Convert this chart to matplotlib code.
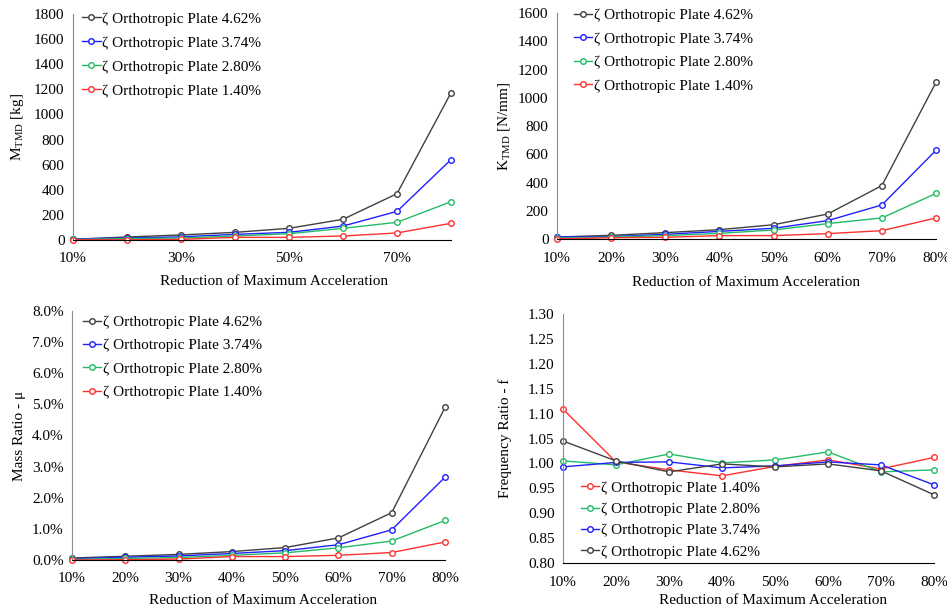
import matplotlib
matplotlib.use("Agg")
import matplotlib.pyplot as plt
from matplotlib.ticker import FuncFormatter

plt.rcParams['font.family'] = ['Liberation Serif', 'DejaVu Serif']
plt.rcParams['mathtext.fontset'] = 'custom'
plt.rcParams['mathtext.rm'] = 'Liberation Serif'
plt.rcParams['font.size'] = 11

W, H = 947, 611

categories = ["10%", "20%", "30%", "40%", "50%", "60%", "70%", "80%"]
series_names = ["ζ Orthotropic Plate 4.62%", "ζ Orthotropic Plate 3.74%",
                "ζ Orthotropic Plate 2.80%", "ζ Orthotropic Plate 1.40%"]
series_colors = ["#404040", "#2020ff", "#22bb66", "#ff3030"]

# M_TMD [kg]
mass_462 = [5, 24, 40, 61, 93, 165, 369, 1173]
mass_374 = [8, 16, 25, 45, 61, 111, 228, 640]
mass_280 = [4, 11, 16, 32, 50, 93, 141, 305]
mass_140 = [2, 2, 5, 21, 21, 32, 56, 133]

# K_TMD [N/mm]
stiff_462 = [14, 26, 45, 66, 101, 177, 378, 1109]
stiff_374 = [14, 17, 33, 54, 76, 130, 241, 628]
stiff_280 = [5, 14, 24, 40, 64, 109, 149, 323]
stiff_140 = [0, 9, 12, 24, 24, 38, 59, 149]

# mass ratio [%]
mu_462 = [0.064, 0.12, 0.18, 0.27, 0.40, 0.71, 1.52, 4.90]
mu_374 = [0.04, 0.09, 0.13, 0.21, 0.30, 0.49, 0.97, 2.66]
mu_280 = [0.02, 0.05, 0.08, 0.15, 0.23, 0.39, 0.61, 1.27]
mu_140 = [0.00, 0.01, 0.03, 0.11, 0.11, 0.15, 0.24, 0.58]

# frequency ratio
f_140 = [1.109, 1.003, 0.987, 0.975, 0.994, 1.007, 0.989, 1.012]
f_280 = [1.005, 0.997, 1.019, 1.001, 1.007, 1.023, 0.983, 0.987]
f_374 = [0.993, 1.002, 1.003, 0.991, 0.995, 1.003, 0.997, 0.957]
f_462 = [1.045, 1.005, 0.983, 0.999, 0.993, 0.999, 0.985, 0.937]

fig = plt.figure(figsize=(W / 100, H / 100), dpi=100)


def make_ax(left, top, right, bottom):
    return fig.add_axes([left / W, 1 - bottom / H, (right - left) / W, (bottom - top) / H])


def style(ax, ylim, yticks, ylabel, xtick_idx, fmt=None):
    x = list(range(len(categories)))
    ax.set_xlim(0, len(categories) - 1)
    ax.set_ylim(*ylim)
    ax.set_yticks(yticks)
    if fmt:
        ax.yaxis.set_major_formatter(FuncFormatter(fmt))
    ax.set_xticks([x[i] for i in xtick_idx])
    ax.set_xticklabels([categories[i] for i in xtick_idx])
    for s in ("top", "right"):
        ax.spines[s].set_visible(False)
    ax.spines["left"].set_color("#8c8c8c")
    ax.spines["bottom"].set_color("black")
    ax.tick_params(length=0, pad=6, labelsize=11)
    ax.tick_params(axis="x", pad=9)
    ax.set_xlabel("Reduction of Maximum Acceleration", fontsize=11)
    ax.set_ylabel(ylabel, fontsize=11)
    ax.patch.set_visible(False)


def draw(ax, ys, names, colors):
    x = list(range(len(categories)))
    for y, n, c in zip(ys, names, colors):
        ax.plot(x, y, color=c, lw=1, marker="o", ms=4, mfc="white", mec=c, mew=1,
                label=n, clip_on=False)


legend_kw = dict(frameon=False, fontsize=11, handlelength=1.2, handletextpad=0.1,
                 borderaxespad=0.2)

# panel 1
ax1 = make_ax(73, 14, 451, 240)
draw(ax1, [mass_462, mass_374, mass_280, mass_140], series_names, series_colors)
style(ax1, (0, 1800), range(0, 1801, 200), r"M$_\mathregular{TMD}$ [kg]", [0, 2, 4, 6])
ax1.legend(loc="upper left", bbox_to_anchor=(0.0, 1.05), labelspacing=0.68, **legend_kw)
ax1.yaxis.set_label_coords(-0.124, 0.5)
ax1.xaxis.set_label_coords(0.532, -0.155)

# panel 2
ax2 = make_ax(557, 13, 936, 239)
draw(ax2, [stiff_462, stiff_374, stiff_280, stiff_140], series_names, series_colors)
style(ax2, (0, 1600), range(0, 1601, 200), r"K$_\mathregular{TMD}$ [N/mm]", range(8))
ax2.legend(loc="upper left", bbox_to_anchor=(0.021, 1.06), labelspacing=0.64, **legend_kw)
ax2.yaxis.set_label_coords(-0.116, 0.5)
ax2.xaxis.set_label_coords(0.5, -0.164)

# panel 3
ax3 = make_ax(72, 311, 445, 560)
draw(ax3, [mu_462, mu_374, mu_280, mu_140], series_names, series_colors)
style(ax3, (0, 8), [i for i in range(9)], "Mass Ratio - μ", range(8),
      fmt=lambda v, p: f"{v:.1f}%")
ax3.legend(loc="upper left", bbox_to_anchor=(0.005, 1.02), labelspacing=0.64, **legend_kw)
ax3.yaxis.set_label_coords(-0.123, 0.5)
ax3.xaxis.set_label_coords(0.512, -0.137)

# panel 4
ax4 = make_ax(563, 314, 934, 563)
draw(ax4, [f_140, f_280, f_374, f_462], series_names[::-1], series_colors[::-1])
style(ax4, (0.8, 1.3), [0.8 + 0.05 * i for i in range(11)], "Frequency Ratio - f", range(8),
      fmt=lambda v, p: f"{v:.2f}")
ax4.legend(loc="lower left", bbox_to_anchor=(0.024, -0.02), labelspacing=0.5, **legend_kw)
ax4.yaxis.set_label_coords(-0.137, 0.5)
ax4.xaxis.set_label_coords(0.566, -0.124)

fig.savefig("out.png", dpi=100)
